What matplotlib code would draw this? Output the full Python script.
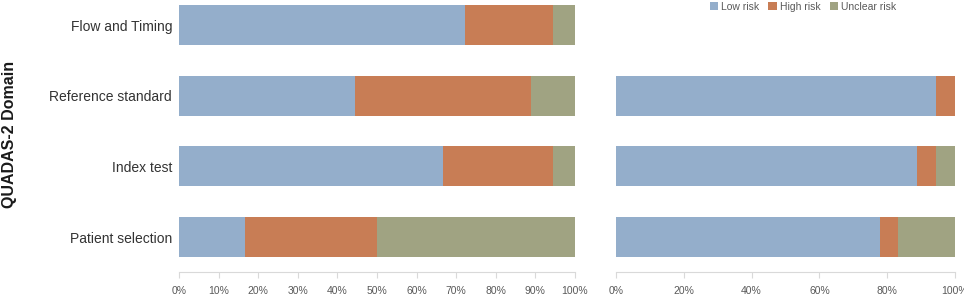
import numpy as np
import matplotlib
matplotlib.use("Agg")
import matplotlib.pyplot as plt
from matplotlib.ticker import PercentFormatter

plt.rcParams['font.family'] = ['Liberation Sans', 'DejaVu Sans']

# data (percent of studies), bottom to top
domains = ["Patient selection", "Index test", "Reference standard", "Flow and Timing"]
bias_low = [16.7, 66.7, 44.4, 72.2]
bias_high = [33.3, 27.8, 44.4, 22.2]
bias_unclear = [50.0, 5.5, 11.2, 5.6]

# applicability concerns (no Flow and Timing)
appl_domains = ["Patient selection", "Index test", "Reference standard"]
appl_low = [77.8, 88.9, 94.4]
appl_high = [5.5, 5.5, 5.6]
appl_unclear = [16.7, 5.6, 0.0]

series_names = ["Low risk", "High risk", "Unclear risk"]
colors = ["#94AECB", "#C87D55", "#A0A382"]

fig = plt.figure(figsize=(9.64, 2.96), dpi=100)
ax1 = fig.add_axes([179 / 964, 24 / 296, 396 / 964, 272 / 296])
ax2 = fig.add_axes([616 / 964, 24 / 296, 339 / 964, 272 / 296])

ypos = np.arange(len(domains))


def stack(ax, cats, low, high, unclear):
    y = [domains.index(c) for c in cats]
    left = np.zeros(len(cats))
    handles = []
    for vals, name, col in zip([low, high, unclear], series_names, colors):
        vals = np.array(vals)
        h = ax.barh(y, vals, left=left, height=0.566, color=col, label=name)
        left += vals
        handles.append(h)
    return handles


handles = stack(ax1, domains, bias_low, bias_high, bias_unclear)
stack(ax2, appl_domains, appl_low, appl_high, appl_unclear)

for ax, step in [(ax1, 10), (ax2, 20)]:
    ax.set_xlim(0, 100)
    ax.set_ylim(-0.495, 3.354)
    ax.set_xticks(np.arange(0, 101, step))
    ax.xaxis.set_major_formatter(PercentFormatter(decimals=0))
    for s in ["top", "right", "left"]:
        ax.spines[s].set_visible(False)
    ax.spines["bottom"].set_color("#d9d9d9")
    ax.tick_params(axis="x", colors="#d9d9d9", labelcolor="#595959", labelsize=7.5,
                   length=4, pad=6)

ax1.set_yticks(ypos)
ax1.set_yticklabels(domains, fontsize=10, color="#333333")
ax1.tick_params(axis="y", length=0, pad=5)
ax1.set_ylabel("QUADAS-2 Domain", fontsize=11.5, fontweight="bold", color="#1a1a1a")
ax1.yaxis.set_label_coords(-0.41, 0.504)
ax2.set_yticks([])

fig.legend(handles=handles, labels=series_names, loc="center",
           bbox_to_anchor=(803 / 964, 1 - 7 / 296), ncol=3, frameon=False,
           fontsize=7.5, handlelength=0.8, handleheight=0.8, handletextpad=0.3,
           columnspacing=0.9, labelcolor="#595959")

fig.savefig("out.png", dpi=100)
